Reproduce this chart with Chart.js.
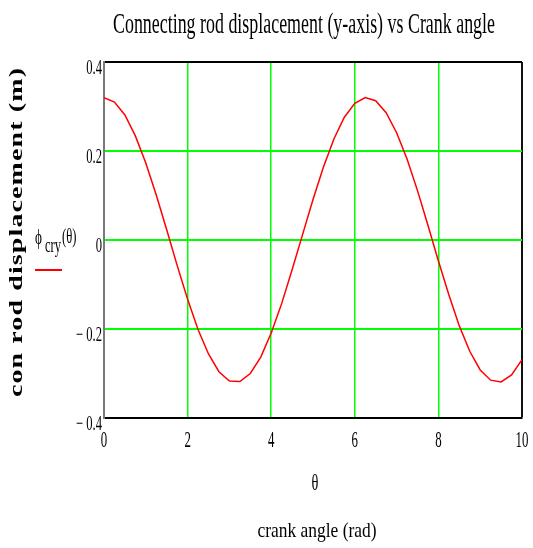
<!DOCTYPE html>
<html>
<head>
<meta charset="utf-8">
<script src="https://cdn.jsdelivr.net/npm/chart.js@4"></script>
<style>
  html, body { margin: 0; padding: 0; background: #fff; }
</style>
</head>
<body>
<canvas id="chart" width="533" height="548"></canvas>
<script>
// crank angle (rad) and con rod y displacement (m)
const thetaRad = [0, 0.25, 0.5, 0.75, 1, 1.25, 1.5, 1.75, 2, 2.25, 2.5, 2.75, 3, 3.25, 3.5, 3.75, 4, 4.25, 4.5, 4.75, 5,
  5.25, 5.5, 5.75, 6, 6.25, 6.5, 6.75, 7, 7.25, 7.5, 7.75, 8, 8.25, 8.5, 8.75, 9, 9.25, 9.5, 9.75, 10];
const conRodDisp = [0.320, 0.310, 0.281, 0.234, 0.173, 0.101, 0.023, -0.057, -0.133, -0.201, -0.256, -0.296, -0.317,
  -0.318, -0.300, -0.263, -0.209, -0.143, -0.067, 0.012, 0.091, 0.164, 0.227, 0.276, 0.307, 0.320, 0.313, 0.286,
  0.241, 0.182, 0.111, 0.033, -0.047, -0.123, -0.193, -0.250, -0.292, -0.315, -0.319, -0.303, -0.269];

// tick labels
const xTicks = [0, 2, 4, 6, 8, 10];
const xTickLabels = ["0", "2", "4", "6", "8", "10"];
const yTicks = [-0.4, -0.2, 0, 0.2, 0.4];
const yTickLabels = ["\u2212 0.4", "\u2212 0.2", "0", "0.2", "0.4"];

const SERIF = "'Liberation Serif', 'Times New Roman', serif";
const SQUEEZE = 0.6; // the original is squashed sideways

// narrow text like the original plot
function squeezeText(ctx, text, x, y, font, sx, align) {
  ctx.save();
  ctx.font = font;
  ctx.textAlign = align || "left";
  ctx.textBaseline = "alphabetic";
  ctx.fillStyle = "#000";
  ctx.translate(x, y);
  ctx.scale(sx, 1);
  ctx.fillText(text, 0, 0);
  ctx.restore();
}

function fitText(ctx, text, cx, y, font, width) {
  ctx.save();
  ctx.font = font;
  const w = ctx.measureText(text).width;
  ctx.restore();
  squeezeText(ctx, text, cx, y, font, width / w, "center");
}

function near(a, b) { return Math.abs(a - b) < 1e-6; }

const textPlugin = {
  id: "texts",
  afterDraw(chart) {
    const ctx = chart.ctx;
    const xs = chart.scales.x;
    const ys = chart.scales.y;

    // title
    fitText(ctx, "Connecting rod displacement (y-axis) vs Crank angle", 304, 33, "29px " + SERIF, 382);

    // tick labels
    xs.ticks.forEach(t => {
      const i = xTicks.findIndex(v => near(v, t.value));
      if (i < 0) return;
      squeezeText(ctx, xTickLabels[i], xs.getPixelForValue(t.value), 447, "23px " + SERIF, 0.56, "center");
    });
    ys.ticks.forEach(t => {
      const i = yTicks.findIndex(v => near(v, t.value));
      if (i < 0) return;
      squeezeText(ctx, yTickLabels[i], 102, ys.getPixelForValue(t.value) + 12, "21px " + SERIF, SQUEEZE, "right");
    });

    // x axis names
    squeezeText(ctx, "\u03b8", 315, 490, "24px " + SERIF, SQUEEZE, "center");
    fitText(ctx, "crank angle (rad)", 317, 537, "21px " + SERIF, 119);

    // legend
    squeezeText(ctx, "\u03d5", 35, 244, "22px " + SERIF, SQUEEZE, "left");
    squeezeText(ctx, "cry", 45, 252, "21px " + SERIF, SQUEEZE, "left");
    squeezeText(ctx, "(\u03b8)", 62, 243, "21px " + SERIF, SQUEEZE, "left");
    ctx.save();
    ctx.strokeStyle = "#ff0000";
    ctx.lineWidth = 2;
    ctx.beginPath();
    ctx.moveTo(35, 270);
    ctx.lineTo(62, 270);
    ctx.stroke();
    ctx.restore();

    // y axis name, rotated, squashed the same way and a little spaced out
    ctx.save();
    const yTitle = "con rod displacement (m)";
    ctx.font = "bold 28px " + SERIF;
    const w = ctx.measureText(yTitle).width;
    ctx.letterSpacing = Math.max(0, (329 - w) / (yTitle.length - 1)).toFixed(2) + "px";
    ctx.translate(17, 232);
    ctx.rotate(-Math.PI / 2);
    ctx.scale(1, 0.64);
    ctx.textAlign = "center";
    ctx.textBaseline = "middle";
    ctx.fillStyle = "#000";
    ctx.fillText(yTitle, 0, 0);
    ctx.restore();
  }
};

new Chart(document.getElementById("chart"), {
  type: "line",
  data: {
    datasets: [{
      label: "φcry(θ)",
      data: thetaRad.map((t, i) => ({ x: t, y: conRodDisp[i] })),
      borderColor: "#ff0000",
      borderWidth: 1.5,
      pointRadius: 0,
      tension: 0,
      fill: false
    }]
  },
  options: {
    responsive: false,
    animation: false,
    layout: { padding: { top: 62, right: 11, bottom: 100, left: 0 } },
    plugins: {
      legend: { display: false },
      title: { display: false },
      tooltip: { enabled: false }
    },
    scales: {
      x: {
        type: "linear",
        min: 0,
        max: 10,
        afterFit: s => { s.height = 30; },
        ticks: { stepSize: 2, display: false },
        grid: {
          drawTicks: false,
          color: c => near(c.tick.value, 0) ? "rgba(0,0,0,0)" : near(c.tick.value, 10) ? "#111" : "#00ff00",
          lineWidth: c => near(c.tick.value, 10) ? 2 : 1.5
        },
        border: { color: "#000", width: 2 }
      },
      y: {
        type: "linear",
        min: -0.4,
        max: 0.4,
        afterFit: s => { s.width = 104; },
        ticks: { stepSize: 0.2, display: false },
        grid: {
          drawTicks: false,
          color: c => near(c.tick.value, -0.4) ? "rgba(0,0,0,0)" : near(c.tick.value, 0.4) ? "#000" : "#00ff00",
          lineWidth: 2
        },
        border: { color: "#7a7a7a", width: 2 }
      }
    }
  },
  plugins: [textPlugin]
});
</script>
</body>
</html>
